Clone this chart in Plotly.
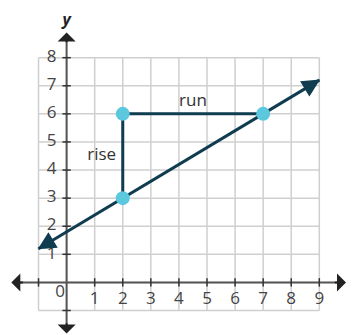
import plotly.graph_objects as go

# ---- data ----
x_ticks = [1, 2, 3, 4, 5, 6, 7, 8, 9]
y_ticks = [1, 2, 3, 4, 5, 6, 7, 8]
grid_x = list(range(-1, 10))
grid_y = list(range(-1, 9))
pts_x = [2, 2, 7]
pts_y = [3, 6, 6]
line_x = [-1, 9]
line_y = [1.2, 7.2]
rise_run_x = [2, 2, 7]
rise_run_y = [3, 6, 6]

DARK = "#0f3c4f"
CYAN = "#5bc8dd"
GRID = "#cfcfcf"
AXIS = "#555555"
FONT = "Open Sans"

fig = go.Figure()

# grid
gx, gy = [], []
for v in grid_x:
    gx += [v, v, None]
    gy += [grid_y[0], grid_y[-1], None]
for v in grid_y:
    gx += [grid_x[0], grid_x[-1], None]
    gy += [v, v, None]
fig.add_trace(go.Scatter(x=gx, y=gy, mode="lines", line=dict(color=GRID, width=1.5),
                         hoverinfo="skip", showlegend=False))

# axes lines
fig.add_trace(go.Scatter(x=[-1.75, 9.7], y=[0, 0], mode="lines", line=dict(color=AXIS, width=2),
                         hoverinfo="skip", showlegend=False))
fig.add_trace(go.Scatter(x=[0, 0], y=[-1.6, 8.7], mode="lines", line=dict(color=AXIS, width=2),
                         hoverinfo="skip", showlegend=False))

# tick marks
tx, ty = [], []
for v in grid_x:
    if v == 0:
        continue
    tx += [v, v, None]
    ty += [-0.15, 0.15, None]
for v in grid_y:
    if v == 0:
        continue
    tx += [-0.15, 0.15, None]
    ty += [v, v, None]
fig.add_trace(go.Scatter(x=tx, y=ty, mode="lines", line=dict(color="#333333", width=1.5),
                         hoverinfo="skip", showlegend=False))

# main line
fig.add_trace(go.Scatter(x=line_x, y=line_y, mode="lines", line=dict(color=DARK, width=3),
                         hoverinfo="skip", showlegend=False))
# rise/run
fig.add_trace(go.Scatter(x=rise_run_x, y=rise_run_y, mode="lines", line=dict(color=DARK, width=3),
                         hoverinfo="skip", showlegend=False))
# points
fig.add_trace(go.Scatter(x=pts_x, y=pts_y, mode="markers",
                         marker=dict(color=CYAN, size=14, line=dict(width=0)),
                         hoverinfo="skip", showlegend=False))

# tick labels
fig.add_trace(go.Scatter(x=x_ticks, y=[-0.63] * len(x_ticks), mode="text",
                         text=[str(v) for v in x_ticks], textposition="middle center",
                         textfont=dict(family=FONT, size=17, color="#444444"),
                         hoverinfo="skip", showlegend=False, cliponaxis=False))
fig.add_trace(go.Scatter(x=[-0.53] * len(y_ticks), y=y_ticks, mode="text",
                         text=[str(v) for v in y_ticks], textposition="middle center",
                         textfont=dict(family=FONT, size=17, color="#444444"),
                         hoverinfo="skip", showlegend=False, cliponaxis=False))
fig.add_trace(go.Scatter(x=[-0.23], y=[-0.36], mode="text", text=["0"],
                         textposition="middle center",
                         textfont=dict(family=FONT, size=17, color="#444444"),
                         hoverinfo="skip", showlegend=False, cliponaxis=False))

# text labels
fig.add_trace(go.Scatter(x=[4.5, 1.25], y=[6.43, 4.5], mode="text", text=["run", "rise"],
                         textposition="middle center",
                         textfont=dict(family=FONT, size=17, color="#333333"),
                         hoverinfo="skip", showlegend=False, cliponaxis=False))

# axis name "y"
fig.add_trace(go.Scatter(x=[0], y=[9.30], mode="text", text=["<b><i>y</i></b>"],
                         textposition="middle center",
                         textfont=dict(family=FONT, size=16, color="#222222"),
                         hoverinfo="skip", showlegend=False, cliponaxis=False))

annotations = []
def head(xt, yt, xf, yf, color, width, size, style):
    annotations.append(dict(x=xt, y=yt, ax=xf, ay=yf, xref="x", yref="y", axref="x", ayref="y",
                            showarrow=True, arrowhead=style, arrowsize=size, arrowwidth=width,
                            arrowcolor=color, text=""))

head(9.95, 0, 9.5, 0, "#222222", 2, 1.5, 1)
head(-1.97, 0, -1.5, 0, "#222222", 2, 1.5, 1)
head(0, 8.9, 0, 8.5, "#222222", 2, 1.5, 1)
head(0, -1.82, 0, -1.4, "#222222", 2, 1.5, 1)
head(9.03, 7.22, 8.5, 6.9, DARK, 3, 1.2, 2)
head(-1.03, 1.18, -0.5, 1.5, DARK, 3, 1.2, 2)

annotations.append(dict(x=10.35, y=0.05, xref="x", yref="y", text="<b><i>x</i></b>", showarrow=False,
                        font=dict(family=FONT, size=18, color="#222222")))

fig.update_layout(
    width=347, height=327,
    margin=dict(l=0, r=0, t=0, b=0),
    plot_bgcolor="white", paper_bgcolor="white",
    xaxis=dict(range=[-2.087, 10.271], visible=False, fixedrange=True),
    yaxis=dict(range=[-1.873, 9.769], visible=False, fixedrange=True),
    annotations=annotations,
    showlegend=False,
)

fig.write_html("out.html")
